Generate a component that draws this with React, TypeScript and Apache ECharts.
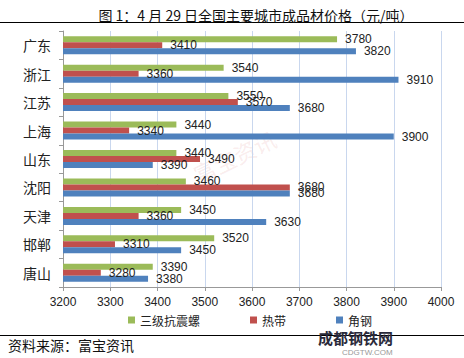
import React, { useEffect, useRef } from "react";
import * as echarts from "echarts";

const cities = ["广东", "浙江", "江苏", "上海", "山东", "沈阳", "天津", "邯郸", "唐山"];
const rebar = [3780, 3540, 3550, 3440, 3440, 3460, 3450, 3520, 3390];
const hotStrip = [3410, 3360, 3570, 3340, 3490, 3680, 3360, 3310, 3280];
const angle = [3820, 3910, 3680, 3900, 3390, 3680, 3630, 3450, 3380];
const seriesNames = ["三级抗震螺", "热带", "角钢"];
const colors = ["#9BBB59", "#C0504D", "#4F81BD"];

export default function App() {
  const ref = useRef<HTMLDivElement>(null);
  useEffect(() => {
    const chart = echarts.init(ref.current!, null, { renderer: "svg" });
    const font = "'Noto Sans CJK SC', sans-serif";
    const mk = (i: number, data: number[]) => ({
      name: seriesNames[i],
      type: "bar",
      data,
      barWidth: 6,
      barGap: "0%",
      itemStyle: { color: colors[i] },
      label: {
        show: true,
        position: "right",
        distance: 8,
        color: "#222",
        fontSize: 12,
        fontFamily: "Arial, sans-serif",
      },
    });
    chart.setOption({
      animation: false,
      title: {
        text: "图 1：4 月 29 日全国主要城市成品材价格（元/吨）",
        left: 251,
        textAlign: "center",
        top: 3,
        textStyle: { fontSize: 14, fontWeight: "normal", color: "#111", fontFamily: font },
      },
      grid: { left: 63, right: 23, top: 31, bottom: 71 },
      legend: {
        bottom: 27,
        left: 123,
        itemWidth: 7,
        itemHeight: 7,
        itemGap: 50,
        icon: "rect",
        textStyle: { fontSize: 12, color: "#222", fontFamily: font },
        data: seriesNames,
      },
      xAxis: {
        type: "value",
        min: 3200,
        max: 4000,
        interval: 100,
        axisLine: { show: true, lineStyle: { color: "#999" } },
        axisTick: { show: true, length: 4, lineStyle: { color: "#999" } },
        axisLabel: {
          fontSize: 12,
          color: "#222",
          margin: 9,
          fontFamily: "Arial, sans-serif",
          formatter: (v: number) => String(v),
        },
        splitLine: { show: true, lineStyle: { color: "#C9D7EE" } },
      },
      yAxis: {
        type: "category",
        data: cities,
        inverse: true,
        axisLine: { show: true, lineStyle: { color: "#999" } },
        axisTick: { show: true, length: 4, lineStyle: { color: "#999" } },
        axisLabel: { fontSize: 14, color: "#222", margin: 12, fontFamily: font },
      },
      series: [mk(0, rebar), mk(1, hotStrip), mk(2, angle)],
      graphic: [
        { type: "line", shape: { x1: 0, y1: 22.5, x2: 464, y2: 22.5 }, style: { stroke: "#000", lineWidth: 1 } },
        { type: "line", shape: { x1: 0, y1: 335.5, x2: 464, y2: 335.5 }, style: { stroke: "#000", lineWidth: 1 } },
        {
          type: "text",
          left: 8,
          top: 338,
          style: { text: "资料来源：富宝资讯", fontSize: 14, fill: "#111", fontFamily: font },
        },
        {
          type: "text",
          x: 190,
          y: 165,
          rotation: Math.PI / 7,
          silent: true,
          style: { text: "富宝资讯", fontSize: 22, fill: "rgba(220,120,120,0.15)", fontFamily: font },
        },
        {
          type: "text",
          x: 318,
          y: 330,
          style: { text: "成都钢铁网", fontSize: 15, fontWeight: "bold", fill: "#2a2a3a", fontFamily: font },
        },
        {
          type: "text",
          x: 342,
          y: 348,
          style: { text: "CDGTW.COM", fontSize: 8, fill: "#999", fontFamily: "Arial, sans-serif" },
        },
      ],
    });
    return () => chart.dispose();
  }, []);
  return <div ref={ref} style={{ width: 464, height: 358, position: "absolute", left: 0, top: 0 }} />;
}
